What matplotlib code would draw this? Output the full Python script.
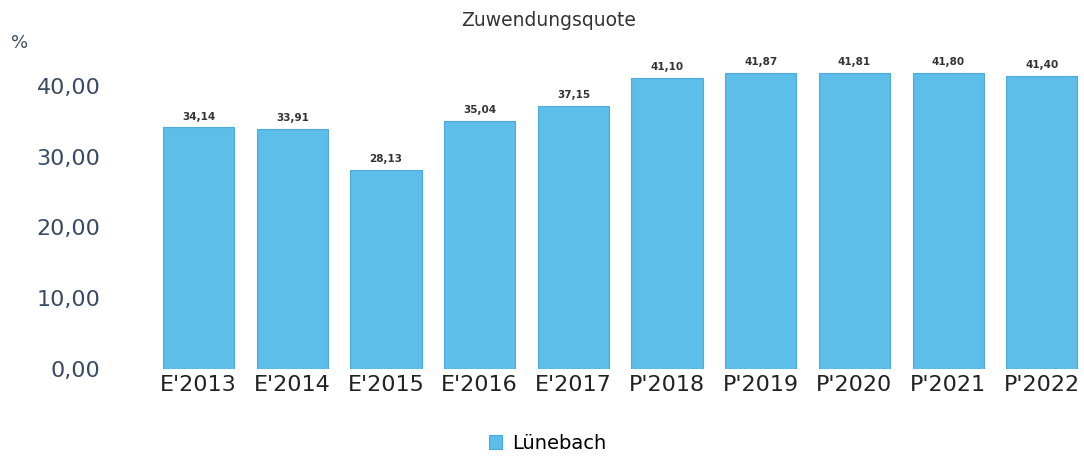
import matplotlib.pyplot as plt

years = ["E'2013", "E'2014", "E'2015", "E'2016", "E'2017",
         "P'2018", "P'2019", "P'2020", "P'2021", "P'2022"]
quote = [34.14, 33.91, 28.13, 35.04, 37.15, 41.10, 41.87, 41.81, 41.80, 41.40]
y_ticks = [0, 10, 20, 30, 40]

fig = plt.figure(figsize=(10.84, 4.57), dpi=100)
ax = fig.add_axes([0.140, 0.1926, 0.86, 0.697])

x = range(len(years))
bars = ax.bar(x, quote, width=0.76, color="#5dbeea", edgecolor="#4daadd",
              linewidth=0.8, label="Lünebach")

for xi, v in zip(x, quote):
    ax.text(xi, v + 0.8, f"{v:.2f}".replace(".", ","), ha="center", va="bottom",
            fontsize=7.5, fontweight="bold", color="#333333")

ax.set_xlim(-0.5, 9.45)
ax.set_ylim(0, 45)
ax.set_xticks(list(x))
ax.set_xticklabels(years, fontsize=16, color="#222222")
ax.set_yticks(y_ticks)
ax.set_yticklabels([f"{t:.2f}".replace(".", ",") for t in y_ticks],
                   fontsize=16, color="#3a4a62")
ax.tick_params(axis="y", length=0, pad=37)
ax.tick_params(axis="x", length=0, pad=4)
for s in ax.spines.values():
    s.set_visible(False)

fig.text(0.506, 0.955, "Zuwendungsquote", ha="center", va="center",
         fontsize=13.5, color="#333333")
fig.text(0.010, 0.905, "%", ha="left", va="center", fontsize=13, color="#3a4a62")

fig.legend(handles=[bars], labels=["Lünebach"], loc="center",
           bbox_to_anchor=(0.505, 0.03), frameon=False, fontsize=14,
           handlelength=0.7, handleheight=0.7, handletextpad=0.5)

fig.savefig("out.png", dpi=100)
